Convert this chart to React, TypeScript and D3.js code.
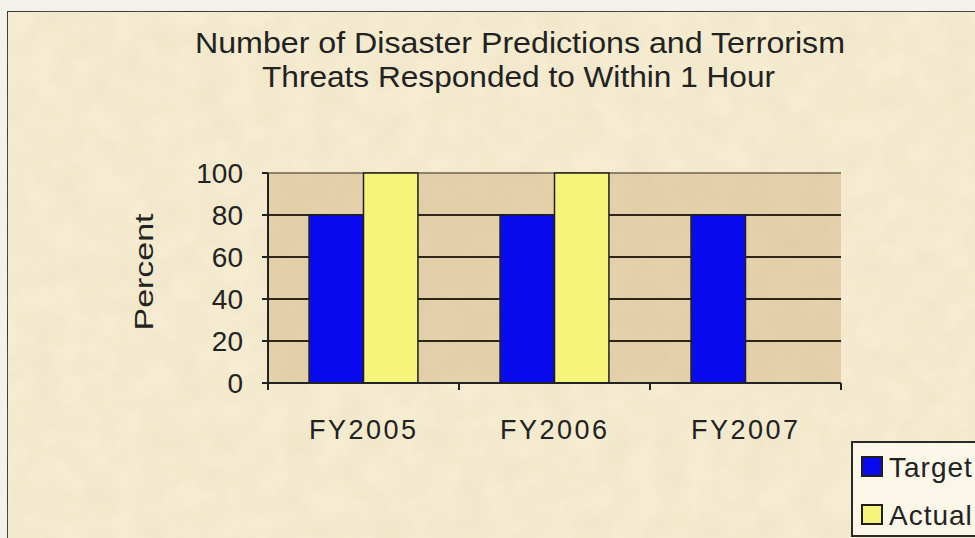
import React from "react";
import * as d3 from "d3";

const categories = ["FY2005", "FY2006", "FY2007"];
const seriesNames = ["Target", "Actual"];
const targetValues = [80, 80, 80];
const actualValues: (number | null)[] = [100, 100, null];
const yTicks = [0, 20, 40, 60, 80, 100];
const titleLines = [
  "Number of Disaster Predictions and Terrorism",
  "Threats Responded to Within 1 Hour",
];
const yLabel = "Percent";

const colors: Record<string, string> = { Target: "#0a0af0", Actual: "#f6f47a" };
const FONT = "'Liberation Sans', Arial, sans-serif";

export default function App() {
  const W = 975, H = 538;
  const plot = { left: 268, right: 841, top: 173, bottom: 383 };
  const y = d3.scaleLinear().domain([0, 100]).range([plot.bottom, plot.top]);
  const x = d3.scaleBand<string>().domain(categories).range([plot.left, plot.right]).padding(0);
  const step = x.bandwidth();
  const inner = d3.scaleBand<string>().domain(seriesNames).range([step * 0.215, step * 0.785]).padding(0);

  const bars: { key: string; s: string; v: number; cat: string }[] = [];
  categories.forEach((c, i) => {
    bars.push({ key: c + "t", s: "Target", v: targetValues[i], cat: c });
    if (actualValues[i] != null) bars.push({ key: c + "a", s: "Actual", v: actualValues[i] as number, cat: c });
  });

  const tickX = [...categories.map((c) => x(c)!), plot.right];
  const titleSpec = [
    { cx: 520, base: 53, len: 650 },
    { cx: 518.5, base: 87, len: 513 },
  ];

  return (
    <svg width={W} height={H} style={{ position: "absolute", left: 0, top: 0 }} fontFamily={FONT}>
      <defs>
        <filter id="paper" x="0" y="0" width="100%" height="100%">
          <feTurbulence type="fractalNoise" baseFrequency="0.035" numOctaves="3" seed="4" result="n" />
          <feColorMatrix type="matrix" in="n" values="0 0 0 0 0.55  0 0 0 0 0.45  0 0 0 0 0.25  0 0 0 0.18 0" result="c" />
          <feComposite in="c" in2="SourceGraphic" operator="in" result="t" />
          <feMerge>
            <feMergeNode in="SourceGraphic" />
            <feMergeNode in="t" />
          </feMerge>
        </filter>
      </defs>
      <rect x={0} y={0} width={W} height={H} fill="#f3f1ec" />
      <rect x={7} y={11} width={W + 10} height={H + 10} fill="#f8efd4" stroke="#2a2a2a" strokeWidth={2} filter="url(#paper)" />

      {/* Title */}
      {titleLines.map((t, i) => (
        <text key={i} x={titleSpec[i].cx} y={titleSpec[i].base} textAnchor="middle" fontSize={29} fill="#222"
          textLength={titleSpec[i].len} lengthAdjust="spacingAndGlyphs">{t}</text>
      ))}

      {/* Plot area */}
      <rect x={plot.left} y={plot.top} width={plot.right - plot.left} height={plot.bottom - plot.top}
        fill="#e6d2ac" filter="url(#paper)" />
      {yTicks.map((t) => (
        <line key={t} x1={plot.left} x2={plot.right} y1={y(t)} y2={y(t)}
          stroke={t === 100 ? "#6e6250" : "#2e261a"} strokeWidth={t === 100 ? 1.5 : 2} />
      ))}

      {/* Bars */}
      {bars.map((b) => (
        <rect key={b.key} x={x(b.cat)! + inner(b.s)!} y={y(b.v)} width={inner.bandwidth()}
          height={y(0) - y(b.v)} fill={colors[b.s]} stroke="#1e1e1e" strokeWidth={1.5} />
      ))}

      {/* Axes */}
      <line x1={plot.left} x2={plot.left} y1={plot.top} y2={plot.bottom + 6} stroke="#222" strokeWidth={2} />
      <line x1={plot.left} x2={plot.right} y1={plot.bottom} y2={plot.bottom} stroke="#222" strokeWidth={2} />
      {yTicks.map((t) => (
        <g key={"yt" + t}>
          <line x1={plot.left - 6} x2={plot.left} y1={y(t)} y2={y(t)} stroke="#222" strokeWidth={2} />
          <text x={243} y={y(t) + 10} textAnchor="end" fontSize={28} fill="#222">{t}</text>
        </g>
      ))}
      {tickX.map((tx, i) => (
        <line key={"xt" + i} x1={tx} x2={tx} y1={plot.bottom} y2={plot.bottom + 7} stroke="#222" strokeWidth={2} />
      ))}
      {categories.map((c) => (
        <text key={c} x={x(c)! + step / 2 - 1} y={439} textAnchor="middle" fontSize={27} fill="#222"
          textLength={107} lengthAdjust="spacing">{c}</text>
      ))}

      <text transform={`translate(153,272) rotate(-90)`} textAnchor="middle"
        fontSize={26} fill="#222" textLength={117} lengthAdjust="spacingAndGlyphs">{yLabel}</text>

      {/* Legend */}
      <rect x={852} y={442} width={140} height={94} fill="#faf6e8" stroke="#2a2a2a" strokeWidth={2} />
      {seriesNames.map((s, i) => (
        <g key={s}>
          <rect x={862} y={457 + i * 48} width={20} height={19} fill={colors[s]} stroke="#1e1e1e" strokeWidth={2} />
          <text x={889} y={477 + i * 48} fontSize={28} fill="#222" letterSpacing={1}>{s}</text>
        </g>
      ))}
    </svg>
  );
}
